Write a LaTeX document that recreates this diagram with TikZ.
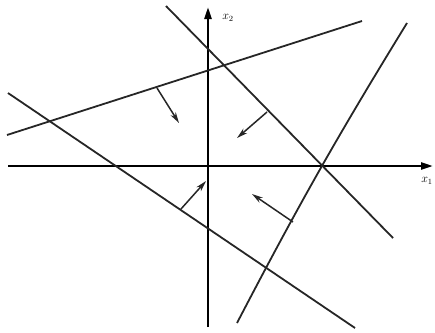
\documentclass[tikz,border=0pt]{standalone}
\usetikzlibrary{arrows.meta}
\begin{document}
\begin{tikzpicture}[x=1pt,y=-1pt,
  axis/.style={line width=2.4pt,-{Triangle[length=12pt,width=7pt]}},
  bound/.style={line width=1.8pt,black!85},
  normal/.style={line width=1.5pt,black!85,-{Stealth[length=11pt,width=6pt]}},
  lbl/.style={font=\large,inner sep=0pt}]
\useasboundingbox (0,0) rectangle (435,332);
% axes
\coordinate (xo) at (8,166);
\coordinate (xe) at (433,166);
\coordinate (yo) at (208,327);
\coordinate (ye) at (208,7);
\draw[axis] (xo) -- (xe);
\draw[axis] (yo) -- (ye);
\node[lbl] (lx1) at (427,181) {$x_1$};
\node[lbl] (lx2) at (228,18) {$x_2$};
% boundary lines
\coordinate (a1) at (7,135);   \coordinate (a2) at (362,21);
\coordinate (b1) at (166,6);   \coordinate (b2) at (393,238);
\coordinate (c1) at (8,93);    \coordinate (c2) at (355,328);
\coordinate (d1) at (237,323); \coordinate (d2) at (407,23);
\draw[bound] (a1) -- (a2);
\draw[bound] (b1) -- (b2);
\draw[bound] (c1) -- (c2);
\draw[bound] (d1) to[bend left=2] (d2);
% normal arrows
\coordinate (n1a) at (157,88);  \coordinate (n1b) at (179,123);
\coordinate (n2a) at (267,112); \coordinate (n2b) at (237,138);
\coordinate (n3a) at (181,209); \coordinate (n3b) at (206,181);
\coordinate (n4a) at (293,222); \coordinate (n4b) at (252,194);
\draw[normal] (n1a) -- (n1b);
\draw[normal] (n2a) -- (n2b);
\draw[normal] (n3a) -- (n3b);
\draw[normal] (n4a) -- (n4b);
\end{tikzpicture}
\end{document}
